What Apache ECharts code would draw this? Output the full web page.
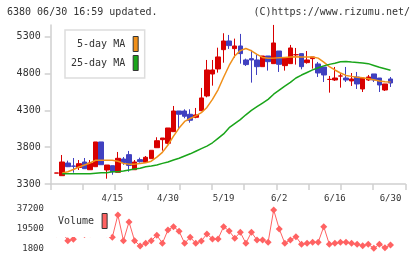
<!DOCTYPE html>
<html>
<head>
<meta charset="utf-8">
<script src="https://cdn.jsdelivr.net/npm/echarts@6/dist/echarts.min.js"></script>
<style>
  html, body { margin: 0; padding: 0; background: #fff; }
  #chart { width: 420px; height: 259px; }
</style>
</head>
<body>
<div id="chart"></div>
<script>
// ---- data ----
const dates = [
    '4/1', '4/2', '4/3', '4/4', '4/7', '4/8', '4/9', '4/10', '4/11', '4/14',
    '4/15', '4/16', '4/17', '4/18', '4/21', '4/22', '4/23', '4/24', '4/25', '4/28',
    '4/30', '5/1', '5/2', '5/7', '5/8', '5/9', '5/12', '5/13', '5/14', '5/16',
    '5/19', '5/20', '5/21', '5/22', '5/23', '5/26', '5/27', '5/28', '5/29', '5/30',
    '6/2', '6/3', '6/4', '6/5', '6/6', '6/9', '6/10', '6/11', '6/12', '6/13',
    '6/16', '6/17', '6/18', '6/19', '6/20', '6/23', '6/24', '6/25', '6/26', '6/27',
    '6/30'
];
const tickLabels = ['4/15', '4/30', '5/19', '6/2', '6/16', '6/30'];
const priceTicks = [3300, 3800, 4300, 4800, 5300];
const volumeTicks = [1800, 19500, 37200];

// [open, close, low, high]
const ohlc = [
    [3448, 3450, 3448, 3450], [3413, 3599, 3413, 3694], [3585, 3535, 3530, 3617], [3545, 3540, 3454, 3653],
    [3524, 3576, 3490, 3626], [3599, 3508, 3505, 3653], [3494, 3585, 3490, 3626], [3535, 3871, 3535, 3871],
    [3871, 3562, 3562, 3871], [3490, 3558, 3372, 3558], [3549, 3467, 3426, 3549], [3459, 3649, 3459, 3735],
    [3640, 3590, 3560, 3667], [3699, 3553, 3467, 3749], [3494, 3599, 3494, 3626], [3631, 3603, 3590, 3658],
    [3595, 3663, 3595, 3680], [3644, 3758, 3644, 3758], [3793, 3888, 3793, 3935], [3902, 3925, 3753, 3925],
    [3853, 4061, 3840, 4061], [4011, 4292, 4011, 4360], [4292, 4247, 4043, 4292], [4292, 4220, 4193, 4315],
    [4247, 4166, 4133, 4315], [4206, 4238, 4193, 4333], [4296, 4469, 4296, 4605], [4496, 4849, 4478, 4985],
    [4794, 4849, 4636, 4985], [4863, 5026, 4813, 5152], [5125, 5243, 4948, 5348], [5243, 5180, 5135, 5325],
    [5139, 5175, 5017, 5275], [5175, 5071, 4935, 5339], [4985, 4922, 4903, 5003], [5003, 4985, 4677, 5121],
    [4985, 4894, 4781, 5057], [4894, 5039, 4894, 5039], [5039, 4962, 4840, 5039], [4935, 5216, 4935, 5461],
    [5107, 4926, 4822, 5107], [4908, 5012, 4840, 5012], [4935, 5148, 4935, 5189], [5055, 5057, 4922, 5148],
    [5071, 4894, 4858, 5071], [4949, 4985, 4935, 5107], [5003, 5026, 4867, 5026], [4931, 4808, 4754, 4958],
    [4890, 4781, 4686, 4890], [4720, 4722, 4541, 4768], [4713, 4740, 4700, 4890], [4766, 4768, 4609, 4808],
    [4740, 4713, 4686, 4890], [4700, 4727, 4632, 4808], [4754, 4659, 4591, 4822], [4591, 4740, 4550, 4740],
    [4713, 4754, 4700, 4781], [4795, 4713, 4686, 4795], [4740, 4645, 4550, 4740], [4577, 4659, 4564, 4659],
    [4727, 4672, 4618, 4754]
];

const ma5 = [
    null, 3450, 3467, 3497, 3531, 3558, 3585, 3622, 3622, 3622,
    3622, 3610, 3580, 3570, 3570, 3580, 3590, 3610, 3665, 3730,
    3830, 3950, 4060, 4150, 4190, 4225, 4270, 4340, 4450, 4580,
    4750, 4910, 5039, 5112, 5140, 5110, 5060, 5020, 5008, 5010,
    5015, 5020, 5025, 5030, 5026, 5026, 5026, 5010, 4955, 4895,
    4849, 4808, 4775, 4762, 4750, 4742, 4730, 4715, 4700, 4690,
    4686
];

const ma25 = [
    null, 3440, 3440, 3440, 3440, 3440, 3440, 3447, 3454, 3454,
    3467, 3467, 3478, 3490, 3504, 3515, 3535, 3545, 3558, 3580,
    3600, 3626, 3650, 3680, 3710, 3745, 3780, 3815, 3860, 3920,
    3980, 4065, 4120, 4175, 4240, 4300, 4350, 4400, 4450, 4520,
    4575, 4630, 4680, 4740, 4780, 4815, 4850, 4880, 4905, 4925,
    4940, 4960, 4965, 4958, 4952, 4945, 4935, 4910, 4885, 4865,
    4845
];

const volume = [
    15000, 16790, 8660, 9930, 22840, 14260, 15000, 28000, 20000, 15000,
    11730, 31870, 8660, 25550, 8660, 3880, 6320, 8660, 13540, 6320,
    18320, 21300, 17150, 6320, 11730, 6320, 8390, 14710, 10200, 10200,
    21300, 17420, 10830, 16250, 6320, 16250, 9300, 9300, 7220, 36390,
    19230, 6320, 9300, 12270, 5410, 6320, 7220, 7220, 21300, 5410,
    6320, 7220, 7220, 6320, 5410, 4150, 5410, 1800, 5410, 2340,
    4780
];

const mono = 'DejaVu Sans Mono';
const axisGray = '#cfcfcf';
const plain = v => String(v);   // no thousands separators

const chart = echarts.init(document.getElementById('chart'));
chart.setOption({
    animation: false,
    backgroundColor: '#fff',
    title: [
        { text: '6380 06/30 16:59 updated.', left: 7, top: 7, padding: 0,
          textStyle: { fontFamily: mono, fontSize: 10, fontWeight: 'normal', color: '#333' } },
        { text: '(C)https://www.rizumu.net/', right: 10, top: 7, padding: 0,
          textStyle: { fontFamily: mono, fontSize: 10, fontWeight: 'normal', color: '#333' } }
    ],
    legend: [
        {
            data: ['5-day MA', '25-day MA'],
            orient: 'vertical', align: 'right',
            left: 65, top: 30,
            padding: [6, 6, 7, 6],
            itemWidth: 5, itemHeight: 15, itemGap: 3,
            icon: 'rect',
            itemStyle: { borderColor: '#333', borderWidth: 1 },
            borderColor: '#ddd', borderWidth: 1.5,
            backgroundColor: '#fff',
            selectedMode: false,
            textStyle: { fontFamily: mono, fontSize: 10, color: '#333', padding: [0, 3, 0, 0] }
        },
        {
            data: ['Volume'],
            orient: 'vertical', align: 'right',
            left: 52, top: 205,
            padding: [8, 3, 8, 6],
            itemWidth: 5, itemHeight: 15,
            icon: 'rect',
            itemStyle: { borderColor: '#333', borderWidth: 1 },
            backgroundColor: '#fff',
            selectedMode: false,
            textStyle: { fontFamily: mono, fontSize: 10, color: '#333', padding: [0, 3, 0, 0] }
        }
    ],
    grid: [
        { left: 50.7, right: 14.7, top: 25, bottom: 75 },   // axis frame
        { left: 53.9, right: 26.7, top: 25, bottom: 75 },   // candles
        { left: 53.9, right: 26.7, top: 209, bottom: 10.7 } // volume
    ],
    xAxis: [
        {
            gridIndex: 0, type: 'value', min: 0, max: 11, interval: 1,
            axisLine: { lineStyle: { color: axisGray, width: 1.5 } },
            axisTick: { length: 6, lineStyle: { color: axisGray, width: 1.5 } },
            axisLabel: { show: false },
            splitLine: { show: false }
        },
        {
            gridIndex: 1, type: 'category', data: dates, boundaryGap: true,
            axisLine: { show: false }, axisTick: { show: false },
            axisLabel: {
                interval: (i, v) => tickLabels.includes(v),
                margin: 10, fontFamily: mono, fontSize: 9, color: '#333'
            }
        },
        {
            gridIndex: 2, type: 'category', data: dates, boundaryGap: true, show: false
        }
    ],
    yAxis: [
        {
            gridIndex: 0, min: 3300, max: 5460,
            axisLine: { show: true, lineStyle: { color: axisGray, width: 1.5 } },
            axisTick: { show: true, length: 6, customValues: priceTicks, lineStyle: { color: axisGray, width: 1.5 } },
            axisLabel: { customValues: priceTicks, formatter: plain, margin: 10, fontFamily: mono, fontSize: 10, color: '#333' },
            splitLine: { show: false }
        },
        { gridIndex: 1, min: 3300, max: 5460, show: false },
        {
            gridIndex: 2, min: 1800, max: 37200,
            axisLine: { show: false }, axisTick: { show: false },
            axisLabel: { customValues: volumeTicks, formatter: plain, margin: 10, fontFamily: mono, fontSize: 9, color: '#333' },
            splitLine: { show: false }
        }
    ],
    series: [
        {
            type: 'candlestick', name: 'price',
            xAxisIndex: 1, yAxisIndex: 1,
            data: ohlc, barWidth: 5,
            itemStyle: {
                color: '#d80000', color0: '#4040c0',
                borderColor: '#d80000', borderColor0: '#4040c0',
                borderWidth: 1
            }
        },
        {
            type: 'line', name: '5-day MA',
            xAxisIndex: 1, yAxisIndex: 1,
            data: ma5, symbol: 'none',
            itemStyle: { color: '#f0901a' },
            lineStyle: { color: '#f0901a', width: 1.5 }
        },
        {
            type: 'line', name: '25-day MA',
            xAxisIndex: 1, yAxisIndex: 1,
            data: ma25, symbol: 'none',
            itemStyle: { color: '#1aa51a' },
            lineStyle: { color: '#1aa51a', width: 1.5 }
        },
        {
            type: 'line', name: 'Volume',
            xAxisIndex: 2, yAxisIndex: 2,
            data: volume, symbol: 'diamond', symbolSize: 7,
            showSymbol: true, showAllSymbol: true,
            clip: false,
            itemStyle: { color: '#ff6262' },
            lineStyle: { color: '#ff6262', width: 1 }
        }
    ]
});
</script>
</body>
</html>
